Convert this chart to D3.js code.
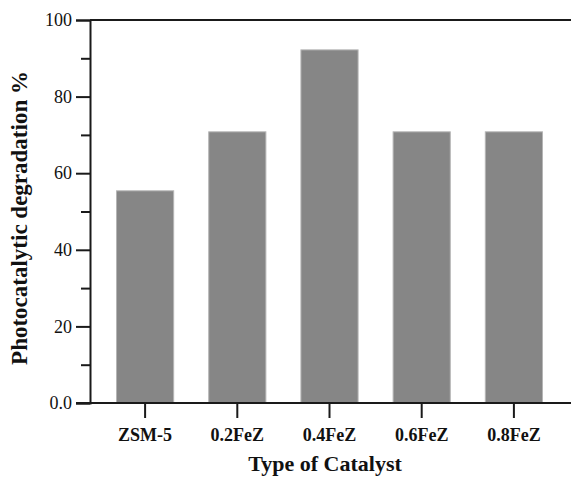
<!DOCTYPE html>
<html>
<head>
<meta charset="utf-8">
<script src="https://cdn.jsdelivr.net/npm/d3@7"></script>
<style>
  body { margin: 0; background: #fff; }
  text { font-family: "Liberation Serif", "Times New Roman", serif; fill: #111; }
</style>
</head>
<body>
<svg width="571" height="478"></svg>
<script>
var catalysts = ['ZSM-5', '0.2FeZ', '0.4FeZ', '0.6FeZ', '0.8FeZ'];
var degradation = [55.4, 70.8, 92.2, 70.8, 70.8];
var yTicks = [0, 20, 40, 60, 80, 100];
var yMinor = [10, 30, 50, 70, 90];

var svg = d3.select('svg');
var width = +svg.attr('width');
var height = +svg.attr('height');

var padding = {t: 20, r: 0, b: 75, l: 90};
var axisColor = '#1a1a1a';

var yScale = d3.scaleLinear()
  .domain([0, 100])
  .range([height - padding.b, padding.t]);

var xScale = d3.scaleBand()
  .domain(catalysts)
  .range([99, 560])
  .paddingInner(0.38)
  .paddingOuter(0.19);

// bars
svg.append('g').selectAll('rect')
  .data(catalysts)
  .enter().append('rect')
  .attr('x', function(d) { return xScale(d); })
  .attr('width', xScale.bandwidth())
  .attr('y', function(d, i) { return yScale(degradation[i]); })
  .attr('height', function(d, i) { return yScale(0) - yScale(degradation[i]); })
  .attr('fill', '#868686')
  .attr('stroke', '#b5b5b5')
  .attr('stroke-width', 1);

// top frame line
svg.append('line')
  .attr('x1', padding.l).attr('x2', width)
  .attr('y1', yScale(100)).attr('y2', yScale(100))
  .attr('stroke', axisColor).attr('stroke-width', 2);

// y axis
var yAxis = svg.append('g')
  .attr('transform', 'translate(' + padding.l + ',0)')
  .call(d3.axisLeft(yScale).tickValues(yTicks).tickSize(14).tickPadding(4)
    .tickFormat(function(d) { return d === 0 ? '0.0' : d; }));
yAxis.select('.domain').attr('stroke', axisColor).attr('stroke-width', 2);
yAxis.selectAll('.tick line').attr('stroke', axisColor).attr('stroke-width', 2);
yAxis.selectAll('.tick text').style('font-size', '18px').attr('fill', '#222');

svg.append('g')
  .attr('transform', 'translate(' + padding.l + ',0)')
  .call(d3.axisLeft(yScale).tickValues(yMinor).tickSize(9).tickFormat(''))
  .call(function(g) {
    g.select('.domain').remove();
    g.selectAll('.tick line').attr('stroke', axisColor).attr('stroke-width', 2);
  });

// x axis
var xAxis = svg.append('g')
  .attr('transform', 'translate(0,' + yScale(0) + ')')
  .call(d3.axisBottom(xScale).tickSize(15).tickPadding(10).tickSizeOuter(0));
xAxis.select('.domain').remove();
xAxis.append('line')
  .attr('x1', padding.l - 14).attr('x2', width)
  .attr('stroke', axisColor).attr('stroke-width', 2);
xAxis.selectAll('.tick line').attr('stroke', axisColor).attr('stroke-width', 2);
xAxis.selectAll('.tick text').style('font-size', '18px').style('font-weight', 'bold').attr('fill', '#111');

// titles
svg.append('text')
  .attr('x', 325)
  .attr('y', height - 7)
  .attr('text-anchor', 'middle')
  .style('font-size', '22px').style('font-weight', 'bold')
  .text('Type of Catalyst');

svg.append('text')
  .attr('transform', 'translate(27,' + 218 + ') rotate(-90)')
  .attr('text-anchor', 'middle')
  .style('font-size', '23px').style('font-weight', 'bold')
  .text('Photocatalytic degradation %');
</script>
</body>
</html>
